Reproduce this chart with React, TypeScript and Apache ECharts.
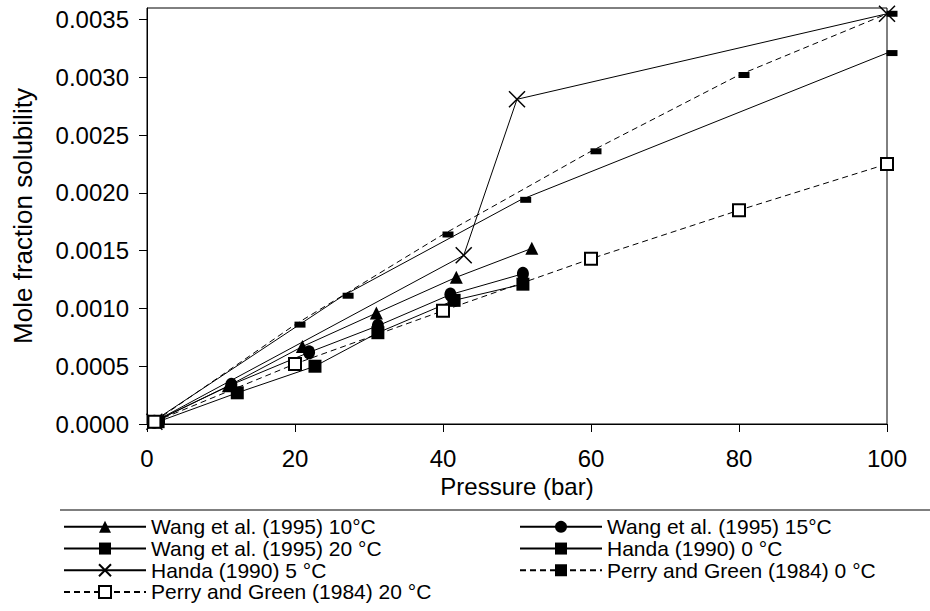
import React, { useEffect, useRef } from "react";
import * as echarts from "echarts";

const FONT = "'Liberation Sans', Arial, sans-serif";

const xTicks = [0, 20, 40, 60, 80, 100];
const yTicks = [0, 0.0005, 0.001, 0.0015, 0.002, 0.0025, 0.003, 0.0035];

const seriesNames = [
  "Wang et al. (1995) 10°C",
  "Wang et al. (1995) 15°C",
  "Wang et al. (1995) 20 °C",
  "Handa (1990) 0 °C",
  "Handa (1990) 5 °C",
  "Perry and Green (1984) 0 °C",
  "Perry and Green (1984) 20 °C",
];

const wang10: number[][] = [[1, 0.00002], [11, 0.00033], [21, 0.00067], [31, 0.00096], [41.8, 0.00127], [52, 0.00152]];
const wang15: number[][] = [[1, 0.00002], [11.4, 0.00034], [21.9, 0.00062], [31.2, 0.00085], [41, 0.00112], [50.8, 0.0013]];
const wang20: number[][] = [[1.5, 0.00002], [12.2, 0.00027], [22.7, 0.0005], [31.2, 0.00079], [41.5, 0.00107], [50.8, 0.00121]];
const handa0: number[][] = [[1, 0.00003], [26.5, 0.00111], [50.5, 0.00194], [100, 0.00321]];
const handa5: number[][] = [[1, 0.00002], [42.8, 0.00146], [50, 0.00281], [100, 0.00355]];
const perry0: number[][] = [[1, 0.00002], [20, 0.00086], [40, 0.00164], [60, 0.00236], [80, 0.00302], [100, 0.00355]];
const perry20: number[][] = [[1, 0.00002], [20, 0.00052], [40, 0.00098], [60, 0.00143], [80, 0.00185], [100, 0.00225]];

const leftLegend = [seriesNames[0], seriesNames[2], seriesNames[4], seriesNames[6]];
const rightLegend = [seriesNames[1], seriesNames[3], seriesNames[5]];

export default function App() {
  const ref = useRef<HTMLDivElement>(null);
  useEffect(() => {
    if (!ref.current) return;
    const chart = echarts.init(ref.current, null, { renderer: "svg" });
    const solid = { color: "#000", width: 1, type: "solid" as const };
    const dashed = { color: "#000", width: 1, type: [6, 4] as any };
    const filled = { color: "#000" };
    const legendBase = {
      orient: "vertical" as const,
      top: 516,
      height: 95,
      padding: 0,
      itemWidth: 82,
      itemHeight: 15,
      itemGap: 0,
      selectedMode: false,
      textStyle: { fontSize: 21, lineHeight: 21.7, color: "#000", fontFamily: FONT },
    };
    chart.setOption({
      animation: false,
      backgroundColor: "#fff",
      textStyle: { fontFamily: FONT },
      grid: {
        left: 147,
        right: 43,
        top: 8,
        bottom: 187,
        show: true,
        borderColor: "#000",
        borderWidth: 1,
      },
      legend: [
        { ...legendBase, left: 63, width: 440, data: leftLegend },
        { ...legendBase, left: 519, width: 400, data: rightLegend },
      ],
      xAxis: {
        type: "value",
        min: 0,
        max: 100,
        interval: 20,
        name: "Pressure (bar)",
        nameLocation: "middle",
        nameGap: 48,
        nameTextStyle: { fontSize: 24, color: "#000", fontFamily: FONT },
        axisLine: { lineStyle: { color: "#000", width: 1 } },
        axisTick: { inside: false, length: 8, lineStyle: { color: "#000" }, customValues: xTicks },
        axisLabel: { fontSize: 24, color: "#000", margin: 22, fontFamily: FONT, customValues: xTicks },
        splitLine: { show: false },
      },
      yAxis: {
        type: "value",
        min: 0,
        max: 0.0036,
        interval: 0.0005,
        name: "Mole fraction solubility",
        nameLocation: "middle",
        nameGap: 111,
        nameTextStyle: { fontSize: 26, color: "#000", fontFamily: FONT },
        axisLine: { show: true, lineStyle: { color: "#000", width: 1 } },
        axisTick: { show: true, inside: false, length: 8, lineStyle: { color: "#000" }, customValues: yTicks },
        axisLabel: {
          fontSize: 24,
          color: "#000",
          margin: 18,
          fontFamily: FONT,
          customValues: yTicks,
          formatter: (v: number) => v.toFixed(4),
        },
        splitLine: { show: false },
      },
      graphic: [
        {
          type: "line",
          shape: { x1: 60, y1: 510, x2: 930, y2: 510 },
          style: { stroke: "#555", lineWidth: 1.5 },
        },
      ],
      series: [
        {
          name: seriesNames[0], type: "line", data: wang10, color: "#000",
          symbol: "triangle", symbolSize: 13, lineStyle: solid, itemStyle: filled, z: 3,
        },
        {
          name: seriesNames[1], type: "line", data: wang15, color: "#000",
          symbol: "circle", symbolSize: [12, 14], lineStyle: solid, itemStyle: filled, z: 3,
        },
        {
          name: seriesNames[2], type: "line", data: wang20, color: "#000",
          symbol: "rect", symbolSize: 13, lineStyle: solid, itemStyle: filled, z: 3,
        },
        {
          name: seriesNames[3], type: "line", data: handa0, color: "#000",
          symbol: "rect", symbolSize: [11, 6], symbolOffset: [5, 0], lineStyle: solid, itemStyle: filled, z: 3,
        },
        {
          name: seriesNames[4], type: "line", data: handa5, color: "#000",
          symbol: "path://M0,0L10,10M10,0L0,10", symbolSize: 16, lineStyle: solid,
          itemStyle: { color: "#000", borderColor: "#000", borderWidth: 1.5 }, z: 3,
        },
        {
          name: seriesNames[5], type: "line", data: perry0, color: "#000",
          symbol: "rect", symbolSize: [11, 6], symbolOffset: [5, 0], lineStyle: dashed, itemStyle: filled, z: 3,
        },
        {
          name: seriesNames[6], type: "line", data: perry20, color: "#000",
          symbol: "rect", symbolSize: 12, lineStyle: dashed,
          itemStyle: { color: "#fff", borderColor: "#000", borderWidth: 2 }, z: 3,
        },
      ],
    });
    return () => chart.dispose();
  }, []);
  return (
    <div
      ref={ref}
      style={{ position: "fixed", left: 0, top: 0, width: 930, height: 611, background: "#fff" }}
    />
  );
}
